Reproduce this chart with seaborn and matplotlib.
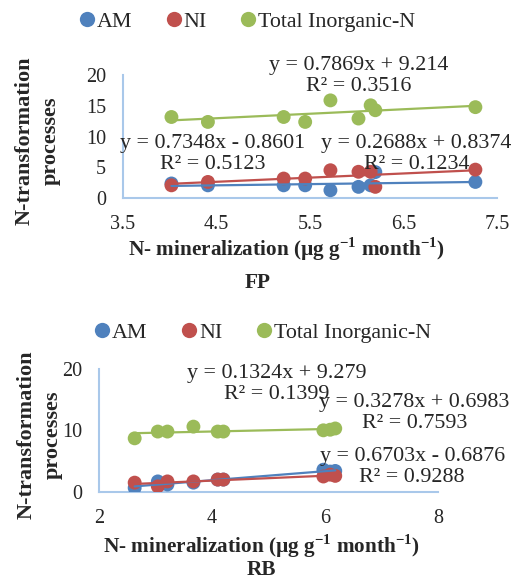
import numpy as np
import pandas as pd
import matplotlib
matplotlib.use("Agg")
import matplotlib.pyplot as plt
import seaborn as sns

# values (x = N-mineralization)
fp_min = [4.02, 4.41, 5.22, 5.45, 5.72, 6.02, 6.15, 6.20, 7.27]
fp_am = [2.4, 2.1, 2.1, 2.1, 1.3, 1.85, 2.1, 4.25, 2.65]
fp_ni = [2.1, 2.65, 3.2, 3.2, 4.55, 4.3, 4.3, 1.85, 4.65]
fp_tin = [13.2, 12.4, 13.2, 12.4, 15.9, 12.95, 15.1, 14.3, 14.8]

rb_min = [2.63, 3.04, 3.21, 3.67, 4.10, 4.20, 5.97, 6.09, 6.18]
rb_am = [0.65, 1.7, 1.2, 1.5, 2.0, 2.0, 3.6, 3.3, 3.4]
rb_ni = [1.5, 0.9, 1.7, 1.7, 2.0, 2.0, 2.5, 2.8, 2.6]
rb_tin = [8.7, 9.8, 9.8, 10.6, 9.8, 9.8, 10.0, 10.1, 10.3]

series = ["AM", "NI", "Total Inorganic-N"]
colors = ["#4F81BD", "#C0504D", "#9BBB59"]

fp_eqs = ["y = 0.7869x + 9.214\nR\u00b2 = 0.3516",
          "y = 0.7348x - 0.8601\nR\u00b2 = 0.5123",
          "y = 0.2688x + 0.8374\nR\u00b2 = 0.1234"]
rb_eqs = ["y = 0.1324x + 9.279\nR\u00b2 = 0.1399",
          "y = 0.3278x + 0.6983\nR\u00b2 = 0.7593",
          "y = 0.6703x - 0.6876\nR\u00b2 = 0.9288"]

fp_xticks = [3.5, 4.5, 5.5, 6.5, 7.5]
fp_yticks = [0, 5, 10, 15, 20]
rb_xticks = [2, 4, 6, 8]
rb_yticks = [0, 10, 20]

sns.set_style("white")
plt.rcParams["font.family"] = ["Liberation Serif", "DejaVu Serif"]
plt.rcParams["mathtext.fontset"] = "custom"
plt.rcParams["mathtext.rm"] = "Liberation Serif"
plt.rcParams["mathtext.bf"] = "Liberation Serif:bold"

FS = 14.5
EQ_FS = 15.8
LAB_FS = 15.3
xlab = r"N- mineralization (µg g$^{\mathbf{-1}}$ month$^{\mathbf{-1}}$)"
ylab = "N-transformation\nprocesses"

fig = plt.figure(figsize=(5.16, 5.78), dpi=100)
ax1 = fig.add_axes([0.238, 0.657, 0.725, 0.213])
ax2 = fig.add_axes([0.192, 0.149, 0.657, 0.213])


def draw(ax, x, am, ni, tin, xticks, yticks, legend_pos):
    df = pd.DataFrame({
        "x": x * 3,
        "y": am + ni + tin,
        "s": [series[0]] * len(am) + [series[1]] * len(ni) + [series[2]] * len(tin),
    })
    sns.scatterplot(data=df, x="x", y="y", hue="s", hue_order=series,
                    palette=colors, s=100, linewidth=0, ax=ax, zorder=3)
    for name, c in zip(series, colors):
        sub = df[df["s"] == name]
        sns.regplot(data=sub, x="x", y="y", scatter=False, ci=None,
                    color=c, line_kws={"lw": 1.6, "zorder": 4}, ax=ax)
    ax.set_xlim(xticks[0], xticks[-1])
    ax.set_ylim(yticks[0], yticks[-1])
    ax.set_xticks(xticks)
    ax.set_yticks(yticks)
    ax.set_xlabel("")
    ax.set_ylabel("")
    ax.tick_params(length=0, labelsize=FS)
    ax.tick_params(axis="x", pad=12)
    ax.tick_params(axis="y", pad=12)
    for side in ["top", "right"]:
        ax.spines[side].set_visible(False)
    for side in ["left", "bottom"]:
        ax.spines[side].set_color("#A9C8EA")
        ax.spines[side].set_linewidth(1.5)
    sns.move_legend(ax, loc="center", bbox_to_anchor=legend_pos,
                    bbox_transform=fig.transFigure, ncol=3, frameon=False,
                    title=None, fontsize=EQ_FS, handletextpad=0.05,
                    columnspacing=1.5, handlelength=0.8, markerscale=1.1)


draw(ax1, fp_min, fp_am, fp_ni, fp_tin, fp_xticks, fp_yticks, (0.478, 0.962))
draw(ax2, rb_min, rb_am, rb_ni, rb_tin, rb_xticks, rb_yticks, (0.508, 0.424))

# trendline equations
kw = dict(ha="center", va="center", fontsize=EQ_FS, linespacing=1.15, zorder=5)
ax1.text(6.02, 19.9, fp_eqs[0], **kw)
ax1.text(4.46, 7.2, fp_eqs[1], **kw)
ax1.text(6.64, 7.2, fp_eqs[2], **kw)
ax2.text(5.14, 17.5, rb_eqs[0], clip_on=False, **kw)
ax2.text(7.58, 12.8, rb_eqs[1], clip_on=False, **kw)
ax2.text(7.54, 4.05, rb_eqs[2], clip_on=False, **kw)

# axis titles
fig.text(0.073, 0.757, ylab, rotation=90, ha="center", va="center",
         fontsize=16, fontweight="bold", linespacing=1.45)
fig.text(0.555, 1 - 249 / 578, xlab, ha="center", va="center",
         fontsize=LAB_FS, fontweight="bold")
fig.text(0.5, 1 - 283 / 578, "FP", ha="center", va="center",
         fontsize=LAB_FS, fontweight="bold")

fig.text(0.077, 0.247, ylab, rotation=90, ha="center", va="center",
         fontsize=16, fontweight="bold", linespacing=1.45)
fig.text(0.507, 1 - 546 / 578, xlab, ha="center", va="center",
         fontsize=LAB_FS, fontweight="bold")
fig.text(0.507, 1 - 570 / 578, "RB", ha="center", va="center",
         fontsize=LAB_FS, fontweight="bold")

fig.savefig("out.png", dpi=100)
